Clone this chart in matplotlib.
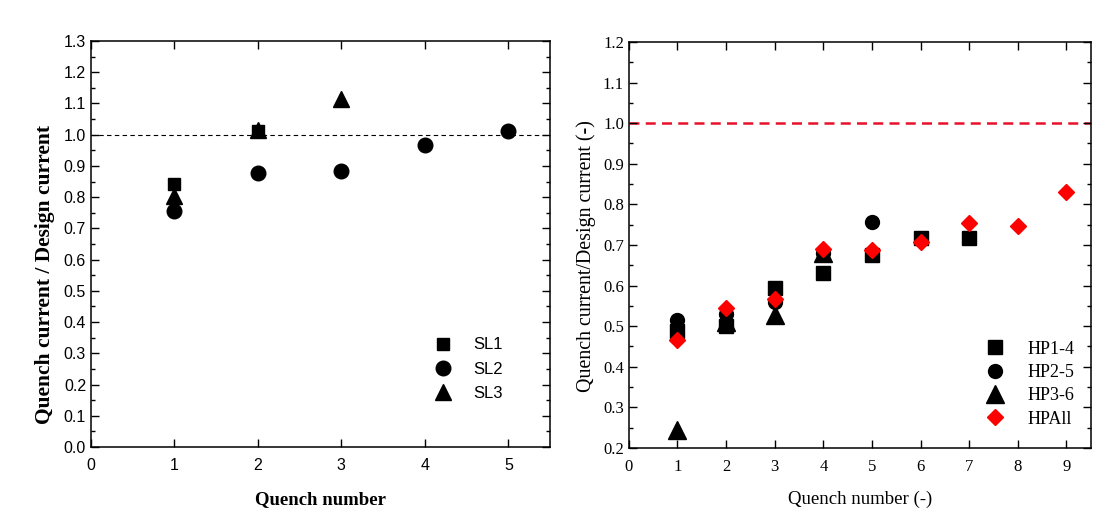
import matplotlib
matplotlib.use('Agg')
import matplotlib.pyplot as plt
from matplotlib.ticker import MultipleLocator, FormatStrFormatter

# left panel: SL coils
sl1_x = [1, 2]
sl1_y = [0.841, 1.013]
sl2_x = [1, 2, 3, 4, 5]
sl2_y = [0.757, 0.878, 0.883, 0.966, 1.011]
sl3_x = [1, 2, 3]
sl3_y = [0.802, 1.016, 1.114]

# right panel: HP coils
hp14_x = [1, 2, 3, 4, 5, 6, 7]
hp14_y = [0.488, 0.501, 0.594, 0.631, 0.676, 0.716, 0.717]
hp25_x = [1, 2, 3, 4, 5]
hp25_y = [0.515, 0.530, 0.559, 0.680, 0.757]
hp36_x = [1, 2, 3, 4]
hp36_y = [0.245, 0.510, 0.528, 0.680]
hpall_x = [1, 2, 3, 4, 5, 6, 7, 8, 9]
hpall_y = [0.467, 0.545, 0.567, 0.689, 0.688, 0.708, 0.754, 0.746, 0.830]

SANS = 'Liberation Sans'
SERIF = 'Liberation Serif'


def style_axes(ax, family):
    ax.xaxis.set_major_locator(MultipleLocator(1))
    ax.yaxis.set_major_locator(MultipleLocator(0.1))
    ax.yaxis.set_minor_locator(MultipleLocator(0.05))
    ax.yaxis.set_major_formatter(FormatStrFormatter('%.1f'))
    ax.tick_params(which='both', direction='in', top=True, right=True,
                   labelsize=11.5, width=1)
    ax.tick_params(which='major', length=6)
    ax.tick_params(which='minor', length=3)
    ax.tick_params(axis='x', which='major', pad=8)
    for lab in ax.get_xticklabels() + ax.get_yticklabels():
        lab.set_fontfamily(family)
    for sp in ax.spines.values():
        sp.set_linewidth(1.1)


fig = plt.figure(figsize=(11.09, 5.12), dpi=100)
ax1 = fig.add_axes([0.082, 0.127, 0.414, 0.793])
ax2 = fig.add_axes([0.567, 0.125, 0.4166, 0.793])

# ---- left
ax1.axhline(1.0, color='black', ls='--', lw=0.8, dashes=(4, 3), zorder=1)
ax1.plot(sl1_x, sl1_y, 's', color='black', ms=9, label='SL1', zorder=3)
ax1.plot(sl2_x, sl2_y, 'o', color='black', ms=10.5, label='SL2', zorder=3)
ax1.plot(sl3_x, sl3_y, '^', color='black', ms=12, label='SL3', zorder=3)
ax1.set_xlim(0, 5.5)
ax1.set_ylim(0, 1.3)
style_axes(ax1, SANS)
ax1.set_xlabel('Quench number', fontfamily=SERIF, fontweight='bold',
               fontsize=13.5, labelpad=13)
ax1.set_ylabel('Quench current / Design current', fontfamily=SERIF,
               fontweight='bold', fontsize=15.5)
ax1.yaxis.set_label_coords(-0.079, 0.425)
ax1.legend(loc='lower right', bbox_to_anchor=(0.93, 0.077), frameon=False,
           prop={'family': SANS, 'size': 12}, handletextpad=0.8,
           labelspacing=0.55)

# ---- right
ax2.axhline(1.0, color='#e8102a', ls='--', lw=1.8, dashes=(4, 2.5), zorder=1)
ax2.plot(hp14_x, hp14_y, 's', color='black', ms=9.5, label='HP1-4', zorder=3)
ax2.plot(hp25_x, hp25_y, 'o', color='black', ms=10, label='HP2-5', zorder=3)
ax2.plot(hp36_x, hp36_y, '^', color='black', ms=13, label='HP3-6', zorder=3)
ax2.plot(hpall_x, hpall_y, 'D', color='#ff0000', ms=8, label='HPAll', zorder=4)
ax2.set_xlim(0, 9.5)
ax2.set_ylim(0.2, 1.2)
style_axes(ax2, SERIF)
ax2.tick_params(labelsize=12)
ax2.set_xlabel('Quench number (-)', fontfamily=SERIF, fontsize=13.5, labelpad=11)
ax2.set_ylabel('Quench current/Design current (-)', fontfamily=SERIF,
               fontsize=14.4)
ax2.yaxis.set_label_coords(-0.07, 0.473)
ax2.legend(loc='lower right', bbox_to_anchor=(1.0, 0.01), frameon=False,
           prop={'family': SERIF, 'size': 13}, handletextpad=0.8,
           labelspacing=0.35)

fig.savefig('out.png', dpi=100)
plt.close(fig)
